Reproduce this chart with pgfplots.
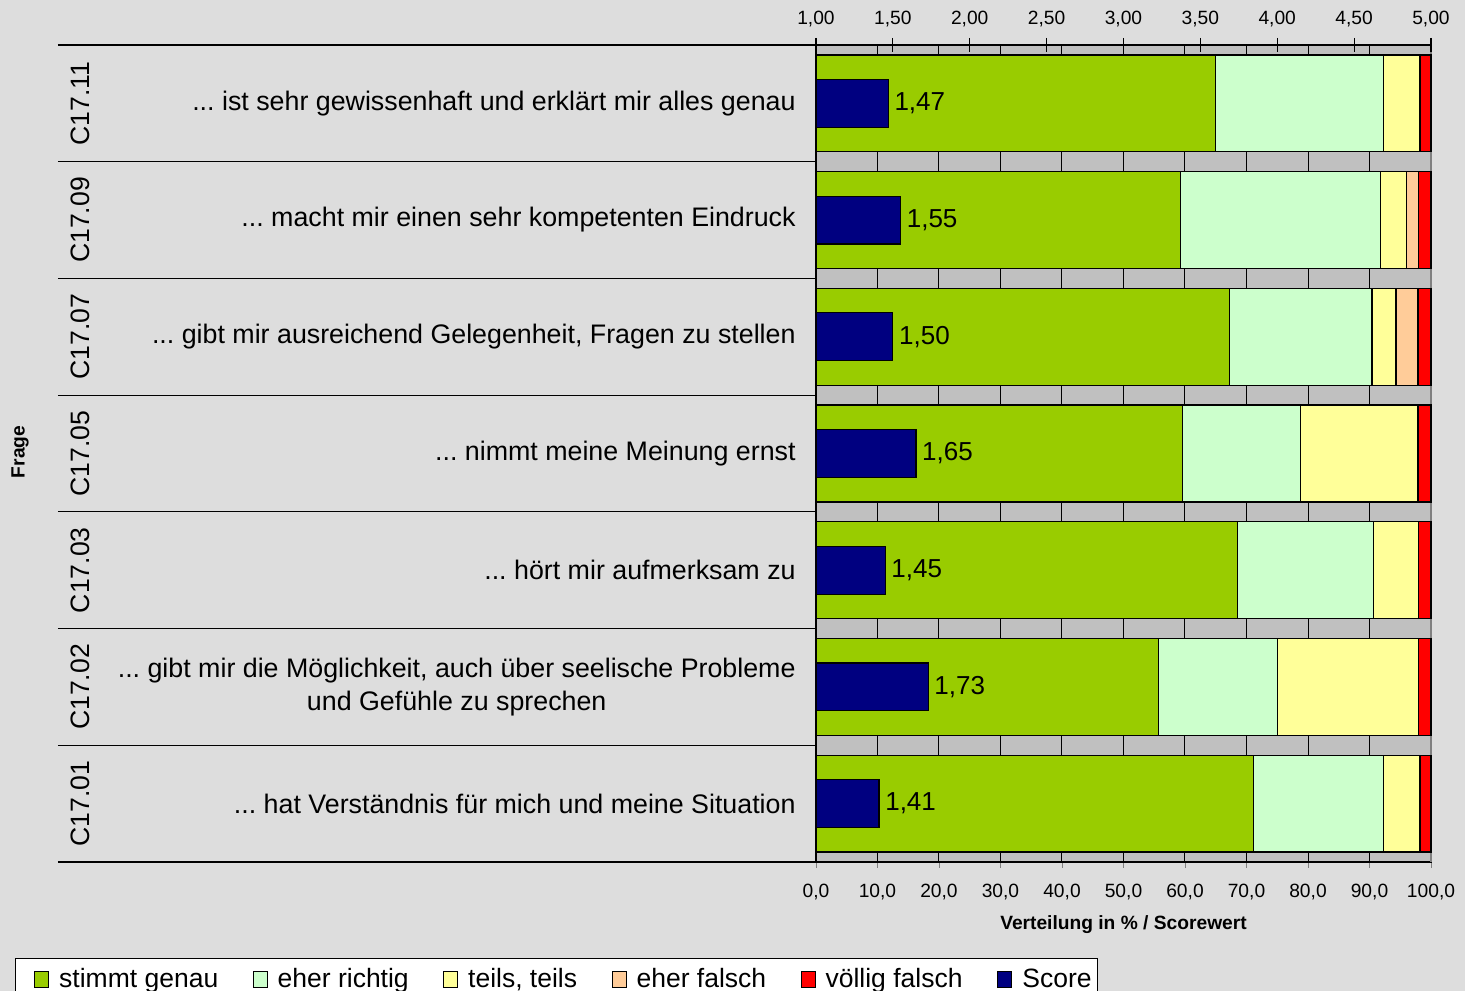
\documentclass[border=0pt]{standalone}
\usepackage{fontspec}
\setmainfont{Liberation Sans}
\usepackage{xcolor}
\usepackage{pgfplots}
\usepackage{pgfplotstable}
\pgfplotsset{compat=1.18}
\usetikzlibrary{calc}
\definecolor{bgc}{RGB}{221,221,221}
\definecolor{plotbg}{RGB}{192,192,192}
\definecolor{c1}{RGB}{153,204,0}
\definecolor{c2}{RGB}{204,255,204}
\definecolor{c3}{RGB}{255,255,153}
\definecolor{c4}{RGB}{255,204,153}
\definecolor{c5}{RGB}{255,0,0}
\definecolor{c6}{RGB}{0,0,128}
\newcommand\fq{\fontsize{13.4}{16.5}\selectfont}
\newcommand\fc{\fontsize{13.3}{16}\selectfont}
\newcommand\fl{\fontsize{13.25}{16}\selectfont}
\newcommand\fs{\fontsize{13}{16}\selectfont}
\newcommand\ft{\fontsize{9.6}{11.5}\selectfont}
\newcommand\ddd{...\ }
\pgfplotsset{/pgf/number format/assume math mode=true}

% y: 0 = C17.01 (bottom) ... 6 = C17.11 (top)
\pgfplotstableread{
y s1 s2 s3 s4 s5 score
0 71.2 21.1 5.9 0.0 1.8 1.41
1 55.7 19.4 22.9 0.0 2.0 1.73
2 68.5 22.2 7.3 0.0 2.0 1.45
3 59.6 19.2 19.1 0.0 2.1 1.65
4 67.3 23.1 3.9 3.6 2.1 1.50
5 59.3 32.5 4.2 2.0 2.0 1.55
6 64.9 27.4 5.9 0.0 1.8 1.47
}\data

\pagecolor{bgc}
\begin{document}
\begin{tikzpicture}
\begin{axis}[
  name=main,
  scale only axis, width=307.5pt, height=408.5pt,
  xbar stacked, bar width=0.83,
  xmin=0, xmax=100, ymin=-0.5, ymax=6.5,
  clip=false,
  axis background/.style={fill=plotbg},
  axis line style={line width=0.6pt},
  xtick distance=10, xtick pos=bottom, tick align=outside,
  major tick length=3pt,
  xmajorgrids, grid style={black, line width=0.5pt},
  x tick label style={font=\ft, yshift=-4.5pt, /pgf/number format/.cd, fixed, fixed zerofill, precision=1, use comma},
  ytick={0,1,2,3,4,5,6}, ytick pos=left, y tick style={draw=none},
  yticklabels={
    {\ddd hat Verständnis für mich und meine Situation},
    {\ddd gibt mir die Möglichkeit, auch über seelische Probleme\\und Gefühle zu sprechen},
    {\ddd hört mir aufmerksam zu},
    {\ddd nimmt meine Meinung ernst},
    {\ddd gibt mir ausreichend Gelegenheit, Fragen zu stellen},
    {\ddd macht mir einen sehr kompetenten Eindruck},
    {\ddd ist sehr gewissenhaft und erklärt mir alles genau}},
  y tick label style={font=\fq, align=center, inner sep=0pt, xshift=-7pt},
  xlabel={\bfseries Verteilung in \% / Scorewert},
  xlabel style={font=\ft, at={(axis description cs:0.5,-0.0771)}, anchor=center},
  every axis plot/.append style={draw=black, line width=0.6pt},
]
\addplot[fill=c1] table[x=s1, y=y]{\data};
\addplot[fill=c2] table[x=s2, y=y]{\data};
\addplot[fill=c3] table[x=s3, y=y]{\data};
\addplot[fill=c4] table[x=s4, y=y]{\data};
\addplot[fill=c5] table[x=s5, y=y]{\data};
\pgfplotsinvokeforeach{0,1,2,3,4,5,6,7}{
  \draw[line width=0.6pt] (axis description cs:-1.2325,#1/7) -- (axis description cs:0,#1/7);
}
\node[rotate=90, font=\fc] at (axis description cs:-1.1967,0.0714) {C17.01};
\node[rotate=90, font=\fc] at (axis description cs:-1.1967,0.2143) {C17.02};
\node[rotate=90, font=\fc] at (axis description cs:-1.1967,0.3571) {C17.03};
\node[rotate=90, font=\fc] at (axis description cs:-1.1967,0.5000) {C17.05};
\node[rotate=90, font=\fc] at (axis description cs:-1.1967,0.6429) {C17.07};
\node[rotate=90, font=\fc] at (axis description cs:-1.1967,0.7857) {C17.09};
\node[rotate=90, font=\fc] at (axis description cs:-1.1967,0.9286) {C17.11};
\node[rotate=90, font=\ft\bfseries] at (axis description cs:-1.2943,0.5018) {Frage};
\draw[gray, line width=0.8pt] (rel axis cs:1,0) -- (rel axis cs:1,1);
\end{axis}

\begin{axis}[
  scale only axis, width=307.5pt, height=408.5pt,
  xbar, bar width=0.41,
  xmin=1, xmax=5, ymin=-0.5, ymax=6.5,
  axis x line*=top, axis y line=none,
  x axis line style={-, line width=0.6pt},
  xtick={1,1.5,2,2.5,3,3.5,4,4.5,5}, tick align=center, major tick length=7pt,
  x tick style={black, line width=0.6pt},
  x tick label style={font=\ft, yshift=2pt, /pgf/number format/.cd, fixed, fixed zerofill, precision=2, use comma},
  nodes near coords={\pgfmathprintnumber[fixed, fixed zerofill, precision=2, use comma]{\pgfplotspointmeta}},
  nodes near coords style={font=\fs, text=black, anchor=west, xshift=-0.5pt},
  legend columns=6,
  legend style={at={(axis description cs:-1.3024,-0.1175)}, anchor=north west,
    draw=black, fill=white, font=\fl, inner xsep=1pt, inner ysep=3pt,
    /tikz/every even column/.append style={column sep=6.8pt}},
  legend cell align=left,
  legend image code/.code={\path (-8.5pt,0pt); \draw[#1, draw=black, line width=0.5pt] (0pt,-4.2pt) rectangle (7pt,4.2pt); \path (10pt,0pt);},
]
\addlegendimage{fill=c1}
\addlegendentry{stimmt genau}
\addlegendimage{fill=c2}
\addlegendentry{eher richtig}
\addlegendimage{fill=c3}
\addlegendentry{teils, teils}
\addlegendimage{fill=c4}
\addlegendentry{eher falsch}
\addlegendimage{fill=c5}
\addlegendentry{völlig falsch}
\addplot[fill=c6, draw=black, line width=0.6pt] table[x=score, y=y]{\data};
\addlegendentry{Score}
\end{axis}
\pgfresetboundingbox
\path ($(main.south west)+(-408pt,-64.5pt)$) rectangle ($(main.north east)+(17pt,22.5pt)$);
\end{tikzpicture}
\end{document}
